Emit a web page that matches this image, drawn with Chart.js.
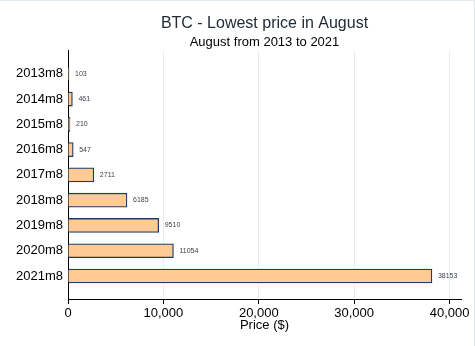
<!DOCTYPE html>
<html>
<head>
<meta charset="utf-8">
<script src="https://cdn.jsdelivr.net/npm/chart.js@4/dist/chart.umd.min.js"></script>
<style>
  html, body { margin: 0; padding: 0; background: #fff; }
  #wrap { width: 475px; height: 346px; }
</style>
</head>
<body>
<div id="wrap"><canvas id="chartBTC" width="475" height="346"></canvas></div>
<script>
// data
var months = ['2013m8','2014m8','2015m8','2016m8','2017m8','2018m8','2019m8','2020m8','2021m8'];
var lowPrice = [103, 461, 210, 547, 2711, 6185, 9510, 11054, 38153];
var priceTicks = [0, 10000, 20000, 30000, 40000];

var FONT = "'Liberation Sans', Arial, sans-serif";

// bars on a linear index axis so the top/bottom padding can match
var points = lowPrice.map(function(v, i){ return { x: v, y: i }; });

// small value labels next to each bar
var valueLabels = {
    id: 'valueLabels',
    afterDatasetsDraw: function(chart){
        var ctx = chart.ctx;
        var meta = chart.getDatasetMeta(0);
        ctx.save();
        ctx.font = '7px ' + FONT;
        ctx.fillStyle = '#3a3f47';
        ctx.textAlign = 'left';
        ctx.textBaseline = 'middle';
        meta.data.forEach(function(bar, i){
            ctx.fillText(String(lowPrice[i]), bar.x + 6, bar.y);
        });
        ctx.restore();
    }
};

var frame = {
    id: 'frame',
    beforeDraw: function(chart){
        var ctx = chart.ctx;
        ctx.save();
        ctx.fillStyle = '#fff';
        ctx.fillRect(0, 0, chart.width, chart.height);
        ctx.strokeStyle = '#dde9ef';
        ctx.lineWidth = 1;
        ctx.beginPath();
        ctx.moveTo(0, 0.5); ctx.lineTo(chart.width - 0.5, 0.5);
        ctx.lineTo(chart.width - 0.5, chart.height);
        ctx.stroke();
        ctx.restore();
    }
};

var ctx = document.getElementById('chartBTC');
new Chart(ctx, {
    type: 'bar',
    data: {
        datasets: [{
            label: 'Lowest price',
            data: points,
            backgroundColor: '#ffca95',
            borderColor: '#1c3e66',
            borderWidth: 1.3,
            barThickness: 14
        }]
    },
    options: {
        indexAxis: 'y',
        responsive: false,
        animation: false,
        layout: { padding: { left: 0, right: 14, top: 0, bottom: 0 } },
        plugins: {
            legend: { display: false },
            tooltip: { enabled: false },
            title: {
                display: true,
                text: 'BTC - Lowest price in August',
                fullSize: false,
                color: '#222b36',
                font: { family: FONT, size: 16, weight: 'normal' },
                padding: { top: 14, bottom: 1 }
            },
            subtitle: {
                display: true,
                text: 'August from 2013 to 2021',
                fullSize: false,
                color: '#000',
                font: { family: FONT, size: 13, weight: 'normal' },
                padding: { top: 0, bottom: 1 }
            }
        },
        scales: {
            x: {
                type: 'linear',
                min: 0,
                max: 41200,
                afterBuildTicks: function(scale){
                    scale.ticks = priceTicks.map(function(v){ return { value: v }; });
                },
                afterFit: function(scale){ scale.height = 47; },
                ticks: {
                    color: '#000',
                    font: { family: FONT, size: 13 },
                    padding: 2,
                    callback: function(v){ return v.toLocaleString('en-US'); }
                },
                grid: {
                    color: function(c){ return c.tick && c.tick.value === 0 ? 'rgba(0,0,0,0)' : '#e4edf1'; },
                    tickColor: '#000',
                    tickLength: 5
                },
                border: { display: true, color: '#000', width: 1 },
                title: {
                    display: true,
                    text: 'Price ($)',
                    color: '#000',
                    font: { family: FONT, size: 13 },
                    padding: { top: 0, bottom: 13 }
                }
            },
            y: {
                type: 'linear',
                reverse: true,
                offset: false,
                min: -0.91,
                max: 8.91,
                afterBuildTicks: function(scale){
                    scale.ticks = months.map(function(m, i){ return { value: i }; });
                },
                afterFit: function(scale){ scale.width = 68; },
                ticks: {
                    color: '#000',
                    font: { family: FONT, size: 13 },
                    padding: 5,
                    autoSkip: false,
                    callback: function(v){ return months[v]; }
                },
                grid: { display: false, drawTicks: false },
                border: { display: true, color: '#000', width: 1 }
            }
        }
    },
    plugins: [frame, valueLabels]
});
</script>
</body>
</html>
